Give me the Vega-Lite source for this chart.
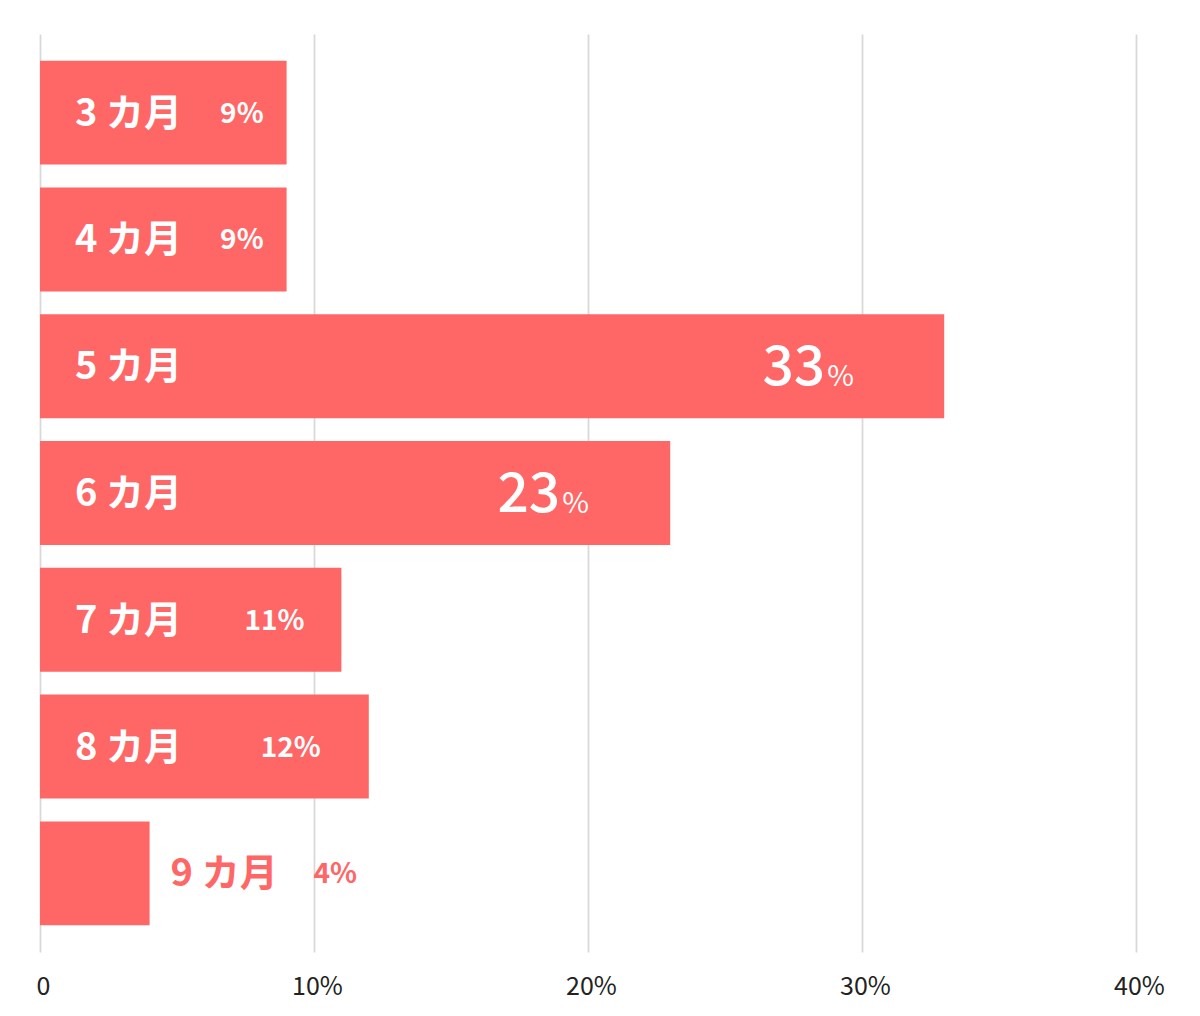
{
  "$schema": "https://vega.github.io/schema/vega-lite/v6.json",
  "autosize": {"type": "none"},
  "padding": {"left": 40, "top": 34, "right": 64, "bottom": 64},
  "width": 1096,
  "height": 918,
  "background": "white",
  "config": {"view": {"stroke": null}, "font": "Noto Sans CJK JP"},
  "data": {
    "values": [
      {"month": "3 カ月", "value": 9},
      {"month": "4 カ月", "value": 9},
      {"month": "5 カ月", "value": 33},
      {"month": "6 カ月", "value": 23},
      {"month": "7 カ月", "value": 11},
      {"month": "8 カ月", "value": 12},
      {"month": "9 カ月", "value": 4}
    ]
  },
  "encoding": {
    "y": {
      "field": "month",
      "type": "nominal",
      "sort": null,
      "scale": {"paddingInner": 0.18, "paddingOuter": 0.21},
      "axis": null
    },
    "x": {
      "field": "value",
      "type": "quantitative",
      "scale": {"domain": [0, 40], "nice": false},
      "axis": {
        "values": [0, 10, 20, 30, 40],
        "labelExpr": "datum.value == 0 ? '0' : datum.value + '%'",
        "title": null,
        "domain": false,
        "ticks": false,
        "grid": true,
        "gridColor": "#d9d9d9",
        "gridWidth": 1.8,
        "labelFont": "Noto Sans CJK JP",
        "labelFontSize": 25,
        "labelFontWeight": 400,
        "labelColor": "#222222",
        "labelPadding": 22,
        "labelBaseline": "top",
        "labelFlush": false,
        "labelBound": false,
        "labelOverlap": false,
        "labelOffset": 3
      }
    }
  },
  "layer": [
    {"mark": {"type": "bar", "color": "#FF6666", "cornerRadius": 0}},
    {
      "transform": [{"filter": "datum.month != '9 カ月'"}],
      "mark": {"type": "text", "align": "left", "baseline": "middle", "dx": 35, "dy": 2, "color": "white", "fontSize": 38, "fontWeight": "bold"},
      "encoding": {"x": {"datum": 0}, "text": {"field": "month"}}
    },
    {
      "transform": [{"filter": "datum.month == '9 カ月'"}],
      "mark": {"type": "text", "align": "left", "baseline": "middle", "dx": 21, "dy": 2, "color": "#FF6666", "fontSize": 38, "fontWeight": "bold"},
      "encoding": {"text": {"field": "month"}}
    },
    {
      "transform": [{"filter": "datum.month == '9 カ月'"}],
      "mark": {"type": "text", "align": "left", "baseline": "middle", "dx": 164, "dy": 2, "color": "#FF6666", "fontSize": 28, "fontWeight": "bold", "text": {"expr": "datum.value + '%'"}},
      "encoding": {}
    },
    {
      "transform": [{"filter": "datum.month == '3 カ月' || datum.month == '4 カ月'"}],
      "mark": {"type": "text", "align": "right", "baseline": "middle", "dx": -23, "dy": 2, "color": "white", "fontSize": 28, "fontWeight": "bold", "text": {"expr": "datum.value + '%'"}},
      "encoding": {}
    },
    {
      "transform": [{"filter": "datum.month == '7 カ月'"}],
      "mark": {"type": "text", "align": "right", "baseline": "middle", "dx": -37, "dy": 2, "color": "white", "fontSize": 28, "fontWeight": "bold", "text": {"expr": "datum.value + '%'"}},
      "encoding": {}
    },
    {
      "transform": [{"filter": "datum.month == '8 カ月'"}],
      "mark": {"type": "text", "align": "right", "baseline": "middle", "dx": -48, "dy": 2, "color": "white", "fontSize": 28, "fontWeight": "bold", "text": {"expr": "datum.value + '%'"}},
      "encoding": {}
    },
    {
      "transform": [{"filter": "datum.month == '5 カ月'"}],
      "mark": {"type": "text", "align": "right", "baseline": "middle", "dx": -119, "dy": 2, "color": "white", "fontSize": 55, "font": "Noto Sans CJK JP Medium"},
      "encoding": {"text": {"field": "value", "type": "quantitative", "format": "d"}}
    },
    {
      "transform": [{"filter": "datum.month == '5 カ月'"}],
      "mark": {"type": "text", "align": "left", "baseline": "middle", "dx": -117, "dy": 11, "color": "white", "fontSize": 29, "fontWeight": 400, "text": "%"},
      "encoding": {}
    },
    {
      "transform": [{"filter": "datum.month == '6 カ月'"}],
      "mark": {"type": "text", "align": "right", "baseline": "middle", "dx": -110, "dy": 2, "color": "white", "fontSize": 55, "font": "Noto Sans CJK JP Medium"},
      "encoding": {"text": {"field": "value", "type": "quantitative", "format": "d"}}
    },
    {
      "transform": [{"filter": "datum.month == '6 カ月'"}],
      "mark": {"type": "text", "align": "left", "baseline": "middle", "dx": -108, "dy": 11, "color": "white", "fontSize": 29, "fontWeight": 400, "text": "%"},
      "encoding": {}
    }
  ]
}
